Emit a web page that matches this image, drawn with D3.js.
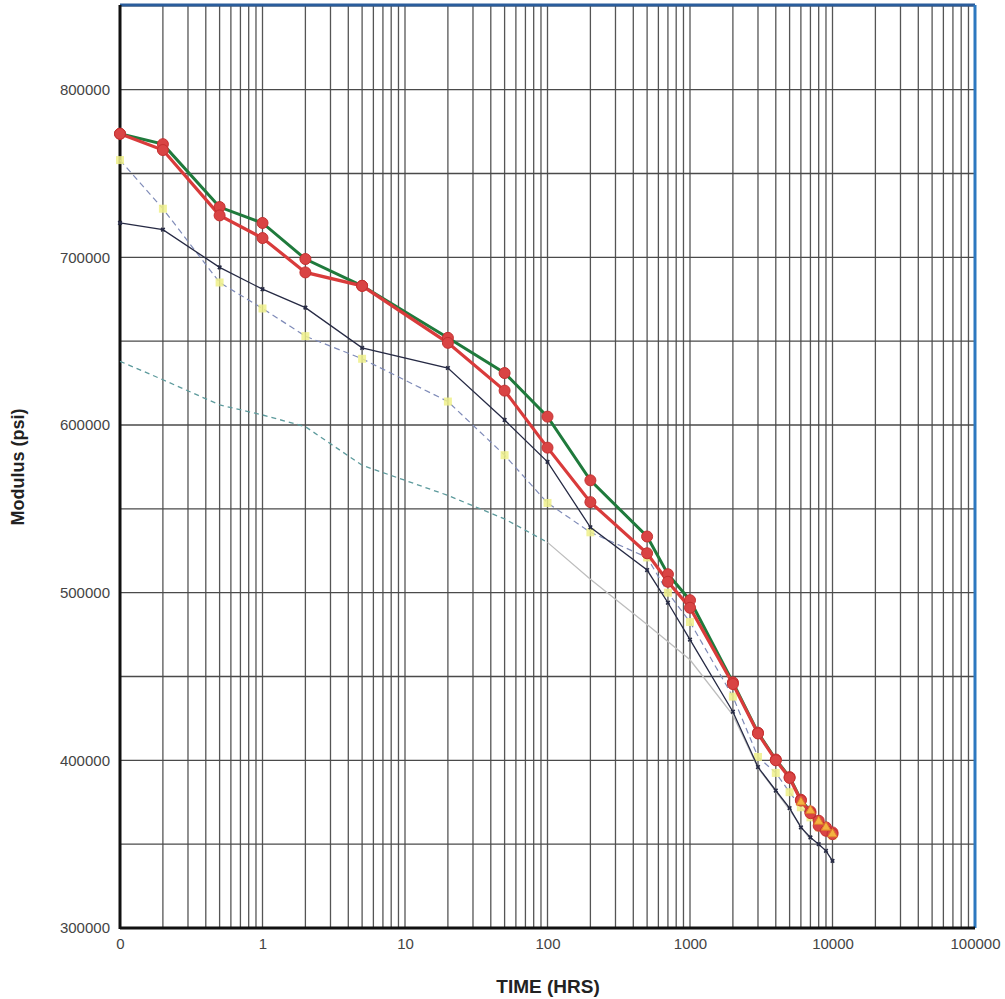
<!DOCTYPE html>
<html>
<head>
<meta charset="utf-8">
<script src="https://cdn.jsdelivr.net/npm/d3@7"></script>
<style>
  body { margin: 0; background: #fff; }
  svg { display: block; font-family: "Liberation Sans", Arial, sans-serif; }
</style>
</head>
<body>
<svg id="chart" width="1005" height="999"></svg>
<script>
// time points (hrs), "0" on the axis stands for 0.1
const times = [0.1, 0.2, 0.5, 1, 2, 5, 20, 50, 100, 200, 500, 700, 1000, 2000, 3000, 4000, 5000, 6000, 7000, 8000, 9000, 10000];

const greenSeries = [773700, 767500, 730000, 720500, 699000, 683000, 652000, 631000, 605000, 567000, 533500, 511000, 495500, 446500, 416500, 400500, 390000, 376500, 369500, 364000, 360000, 357000];
const redSeries = [773700, 764000, 725000, 711500, 691000, 683000, 649000, 620500, 586500, 554000, 523500, 506500, 491000, 445500, 416000, 400000, 389500, 376000, 368500, 361000, 358000, 356000];
const navySeries = [720500, 716500, 694000, 681000, 670000, 646000, 634000, 603000, 578000, 539000, 513500, 494000, 472000, 429000, 396000, 382000, 371500, 360000, 354000, 350000, 346000, 340000];
const yellowSeries = [758000, 729000, 685000, 669500, 653000, 639500, 614000, 582000, 553500, 536000, 521000, 500000, 482500, 438000, 402000, 392500, 381000, 372000, 366000, 360000, 358000, 355000];

const tealTimes = [0.1, 0.2, 0.5, 1, 2, 5, 20, 50, 100];
const tealSeries = [638000, 627000, 612000, 606000, 599000, 576000, 558000, 544000, 530000];

const grayTimes = [100, 200, 500, 1000, 2000, 3000, 5000, 7000];
const graySeries = [530000, 508000, 481000, 460000, 427000, 395500, 370500, 352500];

const orangeTimes = [6000, 7000, 8000, 9000, 10000];
const orangeSeries = [375000, 370000, 363500, 360000, 356000];

const xTickValues = [0.1, 1, 10, 100, 1000, 10000, 100000];
const xTickLabels = ['0', '1', '10', '100', '1000', '10000', '100000'];
const yTickValues = [300000, 400000, 500000, 600000, 700000, 800000];

const svg = d3.select('#chart');
const plotL = 120, plotR = 975, plotT = 5, plotB = 928;

const x = d3.scaleLog().domain([0.1, 100000]).range([plotL, plotR]);
const y = d3.scaleLinear().domain([300000, 850500]).range([plotB, plotT]);

// log-paper grid
const vGrid = [];
for (let e = -1; e < 5; e++) {
  for (let k = 1; k < 10; k++) vGrid.push(k * Math.pow(10, e));
}
vGrid.push(100000);
const hGrid = d3.range(300000, 850001, 50000);

const grid = svg.append('g');
grid.selectAll('line.v')
  .data(vGrid)
  .enter()
  .append('line')
  .attr('x1', d => x(d))
  .attr('x2', d => x(d))
  .attr('y1', plotT)
  .attr('y2', plotB)
  .attr('stroke', '#555')
  .attr('stroke-width', 1.3);

grid.selectAll('line.h')
  .data(hGrid)
  .enter()
  .append('line')
  .attr('x1', plotL)
  .attr('x2', plotR)
  .attr('y1', d => y(d))
  .attr('y2', d => y(d))
  .attr('stroke', '#4a4a4a')
  .attr('stroke-width', 1.4);

// axes (labels only, the frame is drawn separately)
const xAxis = d3.axisBottom(x)
  .tickValues(xTickValues)
  .tickFormat((d, i) => xTickLabels[i])
  .tickSize(0)
  .tickPadding(10);
const gx = svg.append('g').attr('transform', `translate(0,${plotB})`).call(xAxis);
gx.select('.domain').remove();
gx.selectAll('text').attr('font-size', 15).attr('fill', '#444');

const yAxis = d3.axisLeft(y)
  .tickValues(yTickValues)
  .tickFormat(d3.format('d'))
  .tickSize(0)
  .tickPadding(10);
const gy = svg.append('g').attr('transform', `translate(${plotL},0)`).call(yAxis);
gy.select('.domain').remove();
gy.selectAll('text').attr('font-size', 15).attr('fill', '#444');

// frame: scanned page has black left/bottom, blue top/right
svg.append('line').attr('x1', plotL).attr('x2', plotR).attr('y1', plotT).attr('y2', plotT)
  .attr('stroke', '#2a5d9c').attr('stroke-width', 3);
svg.append('line').attr('x1', plotR).attr('x2', plotR).attr('y1', plotT).attr('y2', plotB)
  .attr('stroke', '#2d78c0').attr('stroke-width', 3);
svg.append('line').attr('x1', plotL).attr('x2', plotL).attr('y1', plotT).attr('y2', plotB + 1)
  .attr('stroke', '#111').attr('stroke-width', 3);
svg.append('line').attr('x1', plotL).attr('x2', plotR).attr('y1', plotB).attr('y2', plotB)
  .attr('stroke', '#111').attr('stroke-width', 3);

const line = d3.line().x(d => x(d[0])).y(d => y(d[1]));
const zip = (t, v) => t.map((d, i) => [d, v[i]]);

// faint series first
svg.append('path')
  .datum(zip(grayTimes, graySeries))
  .attr('d', line)
  .attr('fill', 'none')
  .attr('stroke', '#bdbdbd')
  .attr('stroke-width', 1.3);

svg.append('path')
  .datum(zip(tealTimes, tealSeries))
  .attr('d', line)
  .attr('fill', 'none')
  .attr('stroke', '#5c9a9c')
  .attr('stroke-width', 1.3)
  .attr('stroke-dasharray', '5,4');

svg.append('path')
  .datum(zip(times, yellowSeries))
  .attr('d', line)
  .attr('fill', 'none')
  .attr('stroke', '#7f8bb8')
  .attr('stroke-width', 1.2)
  .attr('stroke-dasharray', '6,4');

svg.selectAll('rect.yel')
  .data(zip(times, yellowSeries))
  .enter()
  .append('rect')
  .attr('x', d => x(d[0]) - 4)
  .attr('y', d => y(d[1]) - 4)
  .attr('width', 8)
  .attr('height', 8)
  .attr('fill', '#eef08a')
  .attr('opacity', 0.85);

svg.append('path')
  .datum(zip(times, navySeries))
  .attr('d', line)
  .attr('fill', 'none')
  .attr('stroke', '#262a44')
  .attr('stroke-width', 1.3);

svg.selectAll('path.xmark')
  .data(zip(times, navySeries))
  .enter()
  .append('path')
  .attr('d', d3.symbol(d3.symbolCross, 14))
  .attr('transform', d => `translate(${x(d[0])},${y(d[1])}) rotate(45)`)
  .attr('fill', '#262a44');

// the two main series
svg.append('path')
  .datum(zip(times, greenSeries))
  .attr('d', line)
  .attr('fill', 'none')
  .attr('stroke', '#1f7a3c')
  .attr('stroke-width', 3);

svg.append('path')
  .datum(zip(times, redSeries))
  .attr('d', line)
  .attr('fill', 'none')
  .attr('stroke', '#d93b3b')
  .attr('stroke-width', 3.2);

svg.selectAll('circle.g')
  .data(zip(times, greenSeries))
  .enter()
  .append('circle')
  .attr('cx', d => x(d[0]))
  .attr('cy', d => y(d[1]))
  .attr('r', 5.5)
  .attr('fill', '#d94444')
  .attr('stroke', '#c43030')
  .attr('stroke-width', 1);

svg.selectAll('circle.r')
  .data(zip(times, redSeries))
  .enter()
  .append('circle')
  .attr('cx', d => x(d[0]))
  .attr('cy', d => y(d[1]))
  .attr('r', 5.5)
  .attr('fill', '#d94444')
  .attr('stroke', '#c43030')
  .attr('stroke-width', 1);

svg.selectAll('path.tri')
  .data(zip(orangeTimes, orangeSeries))
  .enter()
  .append('path')
  .attr('d', d3.symbol(d3.symbolTriangle, 40))
  .attr('transform', d => `translate(${x(d[0])},${y(d[1])})`)
  .attr('fill', '#f3b340')
  .attr('stroke', '#e07a2a')
  .attr('stroke-width', 1);

// titles
svg.append('text')
  .attr('x', 548)
  .attr('y', 993)
  .attr('text-anchor', 'middle')
  .attr('font-size', 19)
  .attr('font-weight', 'bold')
  .attr('fill', '#222')
  .text('TIME (HRS)');

svg.append('text')
  .attr('transform', `translate(24,467) rotate(-90)`)
  .attr('text-anchor', 'middle')
  .attr('font-size', 18)
  .attr('font-weight', 'bold')
  .attr('fill', '#222')
  .text('Modulus (psi)');
</script>
</body>
</html>
